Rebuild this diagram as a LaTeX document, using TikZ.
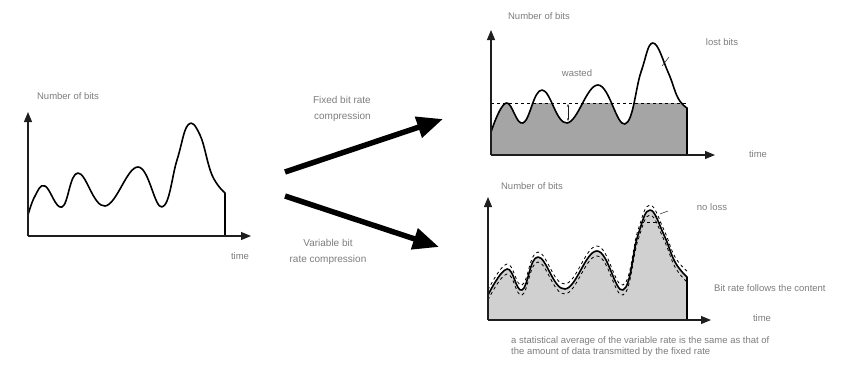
\documentclass[tikz,border=0pt]{standalone}
\usepackage{fontspec}
\setmainfont{Liberation Sans}
\usetikzlibrary{arrows.meta}
\definecolor{inkgray}{RGB}{30,30,30}
\definecolor{labelgray}{RGB}{125,125,125}
\definecolor{fillgray}{RGB}{165,165,165}
\definecolor{filllight}{RGB}{208,208,208}
\tikzset{
  axis/.style    ={-{Triangle[length=10pt,width=8pt]}, line width=1.1pt, draw=inkgray},
  signal/.style  ={line width=1.6pt, draw=black, line join=round},
  bound/.style   ={dashed, dash pattern=on 3pt off 3pt, line width=0.8pt, draw=black},
  bigarrow/.style={-{Triangle[length=26pt,width=21pt]}, line width=5.5pt, draw=black},
  leader/.style  ={line width=0.5pt, draw=inkgray},
  lbl/.style     ={font=\fontsize{9.5}{11}\selectfont, text=labelgray, inner sep=1pt},
  arrlbl/.style  ={font=\fontsize{10}{16}\selectfont, text=labelgray, inner sep=1pt}
}

\begin{document}
\begin{tikzpicture}[x=1pt, y=-1pt]
\useasboundingbox (0,0) rectangle (868,368);

% ---- Source signal ----
\coordinate (lorig) at (28,236);
\coordinate (lytip) at (28,112);
\coordinate (lxtip) at (251,236);
\draw[signal] plot[smooth, tension=0.7] coordinates {(28,215) (35,196) (45,186) (62,207) (78,173) (105,206) (138,167) (162,207) (177,160) (188,125) (200,135) (212,175) (225,193)} -- (225,236);
\draw[axis] (lorig) -- (lytip);
\draw[axis] (lorig) -- (lxtip);
\node[lbl] (ltitle) at (68,96) {Number of bits};
\node[lbl] (lxlab) at (240,256) {time};

% ---- Compression arrows ----
\coordinate (fixfrom) at (285,172);
\coordinate (fixto) at (443,119);
\coordinate (varfrom) at (285,196);
\coordinate (varto) at (439,247);
\draw[bigarrow] (fixfrom) -- (fixto);
\draw[bigarrow] (varfrom) -- (varto);
\node[arrlbl, align=right, anchor=east] (fixlbl) at (372,109) {Fixed bit rate\\compression};
\node[arrlbl, align=center] (varlbl) at (328,252) {Variable bit\\rate compression};

% ---- Fixed rate result ----
\coordinate (torig) at (491,155);
\coordinate (tytip) at (491,30);
\coordinate (txtip) at (715,155);
\coordinate (tlimA) at (491,103);
\coordinate (tlimB) at (687,103);
\begin{scope}
\clip plot[smooth, tension=0.7] coordinates {(491,132) (506,103) (523,123) (542,90) (567,123) (598,85) (625,124) (641,72) (653,43) (668,72) (678,98) (687,108)} -- (687,155) -- (491,155) -- cycle;
\fill[fillgray] (tlimA) rectangle (687,155);
\end{scope}
\draw[bound] (tlimA) -- (tlimB);
\draw[signal] plot[smooth, tension=0.7] coordinates {(491,132) (506,103) (523,123) (542,90) (567,123) (598,85) (625,124) (641,72) (653,43) (668,72) (678,98) (687,108)} -- (687,155);
\draw[axis] (torig) -- (tytip);
\draw[axis] (torig) -- (txtip);
\node[lbl] (ttitle) at (539,16) {Number of bits};
\node[lbl] (twaste) at (577,73) {wasted};
\coordinate (wasteA) at (568,104);
\coordinate (wasteB) at (568,121);
\draw[leader, {Stealth[length=3pt]}-{Stealth[length=3pt]}] (wasteA) -- (wasteB);
\node[lbl] (tlost) at (722,42) {lost bits};
\coordinate (lostA) at (662,66);
\coordinate (lostB) at (669,57);
\draw[leader] (lostA) -- (lostB);
\node[lbl] (txlab) at (758,154) {time};

% ---- Variable rate result ----
\coordinate (borig) at (488,320);
\coordinate (bytip) at (488,197);
\coordinate (bxtip) at (711,320);
\fill[filllight] plot[smooth, tension=0.7] coordinates {(488,295) (507,269) (522,290) (538,257) (565,289) (597,251) (623,290) (638,235) (650,210) (664,235) (675,262) (687,277)} -- (687,320) -- (488,320) -- cycle;
\begin{scope}
\clip (489,190) rectangle (688,319);
\draw[bound] plot[smooth, tension=0.7] coordinates {(488,290) (507,264) (522,285) (538,252) (565,284) (597,246) (623,285) (638,230) (650,205) (664,230) (675,257) (688,272)};
\draw[bound] plot[smooth, tension=0.7] coordinates {(488,300) (507,274) (522,295) (538,262) (565,294) (597,256) (623,295) (638,240) (650,215) (664,240) (675,267) (687,282)};
\end{scope}
\coordinate (capA) at (641,222);
\coordinate (capB) at (661,222);
\draw[bound] (capA) -- (capB);
\draw[signal] plot[smooth, tension=0.7] coordinates {(488,295) (507,269) (522,290) (538,257) (565,289) (597,251) (623,290) (638,235) (650,210) (664,235) (675,262) (687,277)} -- (687,320);
\draw[axis] (borig) -- (bytip);
\draw[axis] (borig) -- (bxtip);
\node[lbl] (btitle) at (532,186) {Number of bits};
\node[lbl] (bpeak) at (712,207) {no loss};
\coordinate (peakA) at (660,214);
\coordinate (peakB) at (668,211);
\draw[leader] (peakA) -- (peakB);
\node[lbl, anchor=west] (bnote) at (713,288) {Bit rate follows the content};
\node[lbl] (bxlab) at (762,318) {time};
\node[lbl, align=left, anchor=north west] (bcaption) at (510,335)
  {a statistical average of the variable rate is the same as that of\\
   the amount of data transmitted by the fixed rate};
\end{tikzpicture}
\end{document}
